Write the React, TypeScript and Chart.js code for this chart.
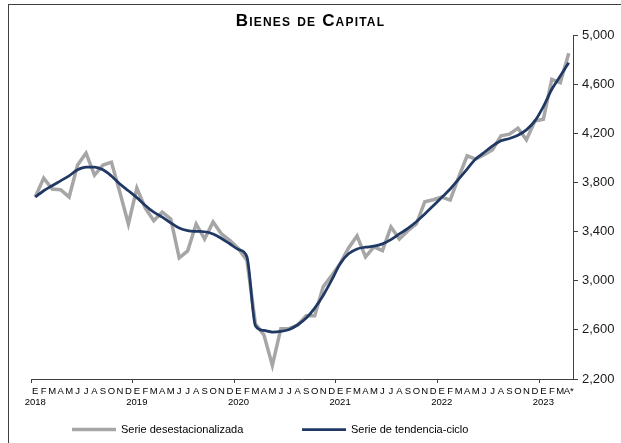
import React, { useEffect, useRef } from 'react';
import { Chart, registerables } from 'chart.js';

Chart.register(...registerables);

// ---- Data ----
const YEARS = ['2018', '2019', '2020', '2021', '2022', '2023'];
const MONTH_INITIALS = ['E', 'F', 'M', 'A', 'M', 'J', 'J', 'A', 'S', 'O', 'N', 'D'];
const LAST_MONTH_LABEL = 'A*';

const SERIE_DESESTACIONALIZADA = [
  // 2018
  3683, 3837, 3748, 3742, 3683, 3943, 4041, 3862, 3943, 3967, 3720, 3463,
  // 2019
  3756, 3593, 3490, 3560, 3504, 3187, 3244, 3463, 3341, 3480, 3382, 3328,
  // 2020
  3262, 3165, 2650, 2560, 2311, 2610, 2612, 2640, 2715, 2715, 2951, 3043,
  // 2021
  3140, 3268, 3366, 3195, 3276, 3246, 3439, 3341, 3409, 3463, 3645, 3661,
  // 2022
  3683, 3658, 3845, 4019, 3992, 4028, 4068, 4181, 4195, 4244, 4149, 4303,
  // 2023
  4317, 4642, 4615, 4854,
];

const SERIE_TENDENCIA_CICLO = [
  // 2018
  3683, 3734, 3775, 3815, 3856, 3905, 3927, 3927, 3905, 3854, 3789, 3734,
  // 2019
  3678, 3614, 3559, 3519, 3472, 3430, 3409, 3403, 3400, 3382, 3345, 3300,
  // 2020
  3255, 3195, 2634, 2596, 2583, 2588, 2604, 2642, 2697, 2778, 2881, 3005,
  // 2021
  3140, 3220, 3260, 3274, 3282, 3301, 3336, 3382, 3428, 3482, 3545, 3612,
  // 2022
  3680, 3748, 3829, 3911, 3992, 4046, 4100, 4141, 4160, 4187, 4230, 4303,
  // 2023
  4420, 4561, 4669, 4778,
];

const Y_MIN = 2200;
const Y_MAX = 5000;
const Y_STEP = 400;

const TITLE = 'Bienes de Capital';
const LABEL_DESEST = 'Serie desestacionalizada';
const LABEL_TENDENCIA = 'Serie de tendencia-ciclo';

// Build category labels (month initial, with year on a second line for January)
const xLabels: (string | string[])[] = [];
for (let y = 0; y < YEARS.length; y++) {
  for (let m = 0; m < 12; m++) {
    const idx = y * 12 + m;
    if (idx >= SERIE_DESESTACIONALIZADA.length) break;
    const isLast = idx === SERIE_DESESTACIONALIZADA.length - 1;
    const lbl = isLast ? LAST_MONTH_LABEL : MONTH_INITIALS[m];
    xLabels.push(m === 0 ? [lbl, YEARS[y]] : lbl);
  }
}

const FONT = 'Liberation Sans';
const AXIS_COLOR = '#404040';

const titleSpacingPlugin = {
  id: 'titleSpacing',
  beforeDraw(chart: any) {
    chart.ctx.letterSpacing = '1.2px';
  },
  beforeDatasetsDraw(chart: any) {
    chart.ctx.letterSpacing = '0px';
  },
};

const lineLegendPlugin = {
  id: 'lineLegend',
  afterDraw(chart: any) {
    const ctx = chart.ctx;
    const starts = [72, 302];
    const y = 429.5;
    const order = [0, 1];
    order.forEach((dsIndex, i) => {
      const ds = chart.data.datasets[dsIndex];
      ctx.save();
      ctx.letterSpacing = '0px';
      ctx.strokeStyle = ds.borderColor;
      ctx.lineWidth = ds.borderWidth;
      ctx.lineCap = 'butt';
      ctx.beginPath();
      ctx.moveTo(starts[i], y);
      ctx.lineTo(starts[i] + 44, y);
      ctx.stroke();
      ctx.fillStyle = '#000000';
      ctx.font = `11px "${FONT}"`;
      ctx.textBaseline = 'middle';
      ctx.textAlign = 'left';
      ctx.fillText(ds.label, starts[i] + 49, y);
      ctx.restore();
    });
  },
};

export default function App() {
  const canvasRef = useRef<HTMLCanvasElement | null>(null);

  useEffect(() => {
    if (!canvasRef.current) return;
    const chart = new Chart(canvasRef.current, {
      type: 'line',
      data: {
        labels: xLabels,
        datasets: [
          {
            label: LABEL_DESEST,
            data: SERIE_DESESTACIONALIZADA,
            borderColor: '#A6A6A6',
            backgroundColor: '#A6A6A6',
            borderWidth: 3.5,
            pointRadius: 0,
            tension: 0,
            order: 1,
            yAxisID: 'y',
          },
          {
            label: LABEL_TENDENCIA,
            data: SERIE_TENDENCIA_CICLO,
            borderColor: '#1F3864',
            backgroundColor: '#1F3864',
            borderWidth: 2.75,
            pointRadius: 0,
            cubicInterpolationMode: 'monotone',
            order: 0,
            yAxisID: 'y',
          },
        ],
      },
      options: {
        responsive: false,
        animation: false,
        devicePixelRatio: 1,
        locale: 'en-US',
        layout: { padding: { left: 0, right: 0, top: 3, bottom: 0 } },
        plugins: {
          legend: { display: false },
          tooltip: { enabled: false },
          title: {
            display: true,
            text: TITLE,
            color: '#000000',
            font: { family: FONT, size: 17, weight: 'small-caps bold' as any, lineHeight: 1.2 },
            padding: { top: 8, bottom: 4 },
          },
        },
        scales: {
          x: {
            type: 'category',
            offset: true,
            grid: {
              display: true,
              offset: true,
              drawOnChartArea: false,
              drawTicks: true,
              tickLength: 4,
              lineWidth: 1,
              color: (ctx: any) =>
                typeof ctx.index === 'number' && ctx.index % 12 === 0 ? AXIS_COLOR : 'rgba(0,0,0,0)',
            },
            border: { display: true, color: AXIS_COLOR, width: 1, z: 1 },
            ticks: {
              autoSkip: false,
              maxRotation: 0,
              minRotation: 0,
              padding: 3,
              color: '#000000',
              font: { family: FONT, size: 9.5, lineHeight: 1.15 },
              z: 1,
            },
            afterFit: (scale: any) => {
              scale.height = 64;
            },
          },
          yLeftSpace: {
            type: 'linear',
            position: 'left',
            display: true,
            grid: { display: false, drawTicks: false },
            border: { display: false },
            ticks: { display: false },
            afterFit: (scale: any) => {
              scale.width = 31;
            },
          },
          y: {
            type: 'linear',
            position: 'right',
            min: Y_MIN,
            max: Y_MAX,
            grid: {
              display: true,
              drawOnChartArea: false,
              drawTicks: true,
              tickLength: 5,
              color: AXIS_COLOR,
            },
            border: { display: true, color: AXIS_COLOR, width: 1, z: 1 },
            ticks: {
              stepSize: Y_STEP,
              padding: 4,
              color: '#1a1a1a',
              font: { family: FONT, size: 13 },
              z: 1,
            },
            afterFit: (scale: any) => {
              scale.width = 48;
            },
          },
        },
      },
      plugins: [titleSpacingPlugin, lineLegendPlugin],
    } as any);
    return () => chart.destroy();
  }, []);

  return (
    <div style={{ position: 'absolute', left: 0, top: 0, width: 621, height: 443, background: '#ffffff' }}>
      <canvas ref={canvasRef} width={621} height={443} style={{ position: 'absolute', left: 0, top: 0, width: 621, height: 443 }} />
      <div
        style={{
          position: 'absolute',
          left: 8,
          top: 4,
          width: 613,
          height: 439,
          borderLeft: `1px solid ${AXIS_COLOR}`,
          borderTop: `1px solid ${AXIS_COLOR}`,
          boxSizing: 'border-box',
          pointerEvents: 'none',
        }}
      />
    </div>
  );
}
